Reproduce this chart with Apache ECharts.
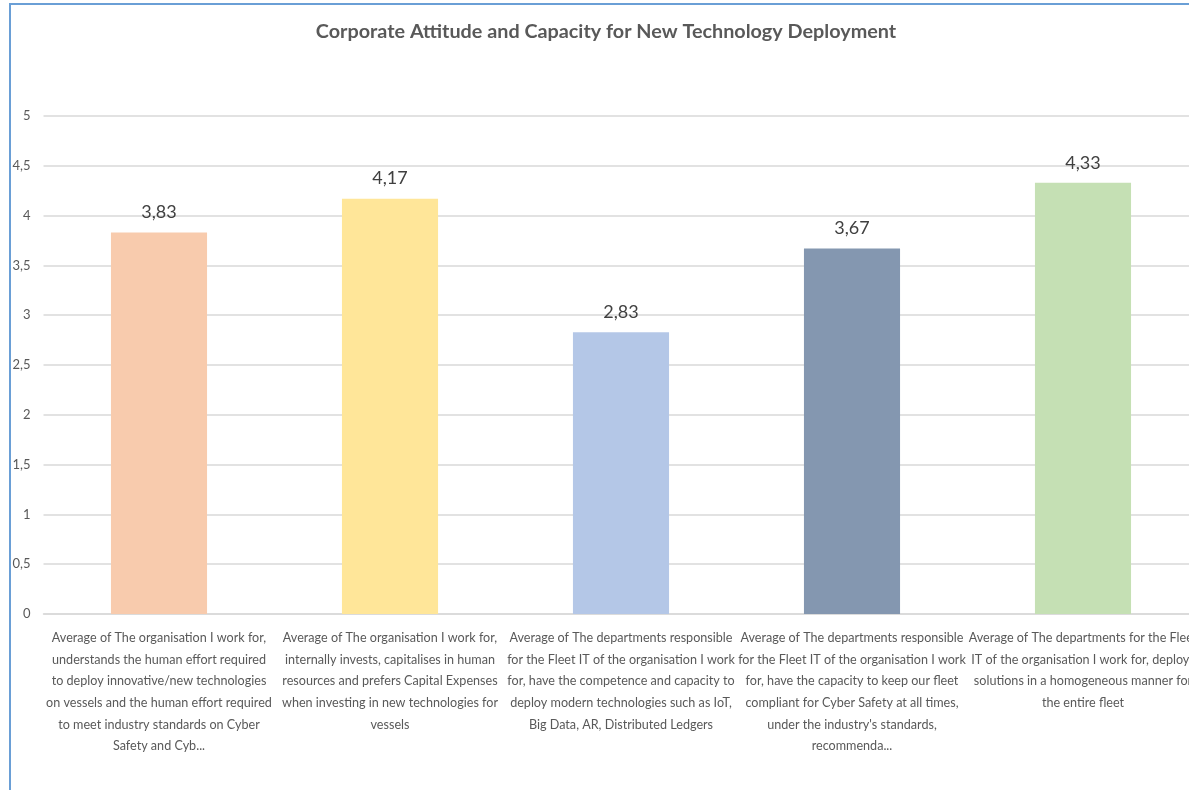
<!DOCTYPE html>
<html>
<head>
<meta charset="utf-8">
<script src="https://cdn.jsdelivr.net/npm/echarts@6/dist/echarts.min.js"></script>
<style>
  html, body { margin: 0; padding: 0; background: #fff; overflow: hidden; width: 1189px; height: 790px; }
  #frame { position: absolute; left: 9px; top: 3px; border-left: 2px solid #6a9fd6; border-top: 2px solid #6a9fd6; width: 1300px; height: 800px; }
  #chart { position: absolute; left: 0; top: 0; width: 1190px; height: 785px; }
</style>
</head>
<body>
<div id="frame"><div id="chart"></div></div>
<script>
// Survey questions (axis categories)
const categories = [
  "Average of The organisation I work for,\nunderstands the human effort required\nto deploy innovative/new technologies\non vessels and the human effort required\nto meet industry standards on Cyber\nSafety and Cyb...",
  "Average of The organisation I work for,\ninternally invests, capitalises in human\nresources and prefers Capital Expenses\nwhen investing in new technologies for\nvessels",
  "Average of The departments responsible\nfor the Fleet IT of the organisation I work\nfor, have the competence and capacity to\ndeploy modern technologies such as IoT,\nBig Data, AR, Distributed Ledgers",
  "Average of The departments responsible\nfor the Fleet IT of the organisation I work\nfor, have the capacity to keep our fleet\ncompliant for Cyber Safety at all times,\nunder the industry's standards,\nrecommenda...",
  "Average of The departments for the Fleet\nIT of the organisation I work for, deploys\nsolutions in a homogeneous manner for\nthe entire fleet"
];
// Average scores
const averages = [3.83, 4.17, 2.83, 3.67, 4.33];
// Value axis ticks
const yMin = 0, yMax = 5, yStep = 0.5;
// Bar fills
const barColors = ["#F8CBAD", "#FFE699", "#B4C7E7", "#8497B0", "#C5E0B4"];

const FONT = 'Lato, "Liberation Sans", sans-serif';
const comma = v => String(v).replace('.', ',');

const chart = echarts.init(document.getElementById('chart'), null, { renderer: 'canvas' });
chart.setOption({
  animation: false,
  title: {
    text: 'Corporate Attitude and Capacity for New Technology Deployment',
    left: 'center',
    top: 12,
    textStyle: { fontFamily: FONT, fontSize: 19.8, fontWeight: 'bold', color: '#595959' }
  },
  grid: { left: 32.5, right: 2.5, top: 111, bottom: 176, containLabel: false, outerBoundsMode: 'none' },
  xAxis: {
    type: 'category',
    data: categories,
    axisLine: { show: true, lineStyle: { color: '#D9D9D9', width: 1.5 } },
    axisTick: { show: false },
    axisLabel: {
      interval: 0,
      hideOverlap: false,
      margin: 13,
      fontFamily: FONT,
      fontSize: 12.6,
      lineHeight: 21.7,
      color: '#595959',
      align: 'center'
    }
  },
  yAxis: {
    type: 'value',
    min: yMin, max: yMax, interval: yStep,
    axisLine: { show: false },
    axisTick: { show: false },
    splitLine: { lineStyle: { color: '#D9D9D9', width: 1.5 } },
    axisLabel: {
      margin: 13,
      fontFamily: FONT,
      fontSize: 13,
      color: '#595959',
      formatter: v => comma(v)
    }
  },
  series: [{
    type: 'bar',
    data: averages.map((v, i) => ({ value: v, itemStyle: { color: barColors[i] } })),
    barWidth: '41.6%',
    label: {
      show: true,
      position: 'top',
      distance: 11,
      fontFamily: FONT,
      fontSize: 18,
      color: '#404040',
      formatter: p => comma(p.value)
    }
  }]
});
</script>
</body>
</html>
